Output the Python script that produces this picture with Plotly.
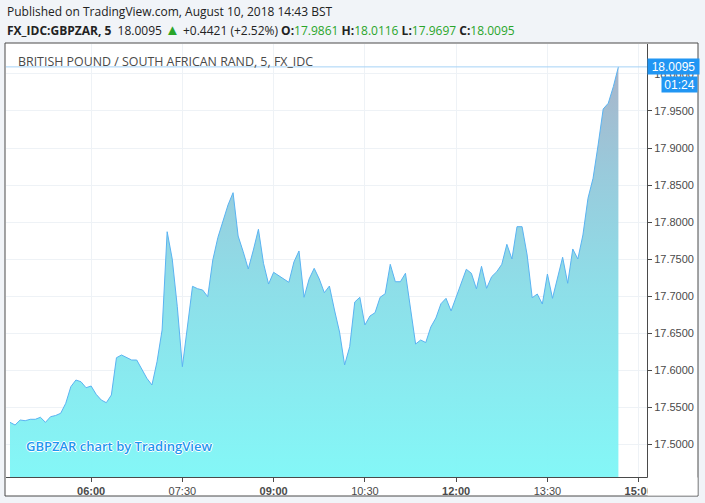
import plotly.graph_objects as go
import pandas as pd

# ---- data ----
times = pd.date_range("2018-08-10 04:40", periods=121, freq="5min")
prices = [
    17.5297, 17.5261, 17.5328, 17.5319, 17.5338, 17.5338, 17.5365, 17.5297, 17.5373, 17.5389,
    17.5419, 17.5554, 17.5778, 17.5868, 17.5845, 17.5764, 17.5787, 17.5675, 17.5598, 17.5562,
    17.5666, 17.6169, 17.6206, 17.6175, 17.6138, 17.6138, 17.6023, 17.5891, 17.5801, 17.6115,
    17.6543, 17.7870, 17.7502, 17.6858, 17.6048, 17.6588, 17.7133, 17.7101, 17.7083, 17.6993,
    17.7488, 17.7792, 17.8028, 17.8231, 17.8397, 17.7812, 17.7600, 17.7367, 17.7623, 17.7903,
    17.7444, 17.7164, 17.7322, 17.7276, 17.7232, 17.7187, 17.7461, 17.7610, 17.6985, 17.7232,
    17.7376, 17.7232, 17.7047, 17.7137, 17.6813, 17.6516, 17.6071, 17.6318, 17.6921, 17.6985,
    17.6611, 17.6732, 17.6777, 17.6985, 17.7033, 17.7430, 17.7195, 17.7195, 17.7309, 17.6840,
    17.6354, 17.6408, 17.6374, 17.6584, 17.6705, 17.6898, 17.6971, 17.6800, 17.6993, 17.7174,
    17.7363, 17.7309, 17.7099, 17.7403, 17.7106, 17.7263, 17.7330, 17.7430, 17.7700, 17.7502,
    17.7938, 17.7938, 17.7556, 17.6979, 17.7029, 17.6894, 17.7299, 17.6971, 17.7249, 17.7525,
    17.7174, 17.7637, 17.7502, 17.7826, 17.8321, 17.8591, 17.9041, 17.9527, 17.9604, 17.9828,
    18.0095,
]
last_price = 18.0095
countdown = "01:24"
tick_times = ["2018-08-10 06:00", "2018-08-10 07:30", "2018-08-10 09:00", "2018-08-10 10:30",
              "2018-08-10 12:00", "2018-08-10 13:30", "2018-08-10 15:00"]
tick_labels = ["<b>06:00</b>", "07:30", "<b>09:00</b>", "10:30", "<b>12:00</b>", "13:30", "<b>15:00</b>"]
header1 = "Published on TradingView.com, August 10, 2018 14:43 BST"
symbol = "FX_IDC:GBPZAR, 5"
change = "+0.4421 (+2.52%)"
ohlc = [("O:", "17.9861"), ("H:", "18.0116"), ("L:", "17.9697"), ("C:", "18.0095")]
chart_title = "BRITISH POUND / SOUTH AFRICAN RAND, 5, FX_IDC"
watermark = "GBPZAR chart by TradingView"

# ---- layout geometry (pixels) ----
W, H = 705, 503
L, R, T, B = 6, 647, 44, 477


def px(x):
    return (x - L) / (R - L)


def py(y):
    return (B - y) / (B - T)


GREEN = "#2aa52a"
TXT = "#4a4a4a"

fig = go.Figure()
fig.add_trace(go.Scatter(
    x=times, y=prices, mode="lines",
    line=dict(color="#5ab3f2", width=1),
    fill="tozeroy",
    fillgradient=dict(type="vertical", start=17.455, stop=18.01,
                      colorscale=[[0, "rgba(128,247,247,0.97)"], [0.45, "rgba(138,222,232,0.97)"],
                                  [0.75, "rgba(150,200,218,0.97)"], [1, "rgba(166,178,200,0.97)"]]),
    hoverinfo="skip", showlegend=False,
))

header2 = (f"<b>{symbol}</b>  {last_price:.4f} <span style='color:{GREEN};font-size:15px'>▲</span> {change} "
           + " ".join(f"<b>{k}</b><span style='color:{GREEN}'>{v}</span>" for k, v in ohlc))

annotations = [
    dict(text=header1, x=px(5), y=py(12), xref="paper", yref="paper", xanchor="left", yanchor="middle",
         showarrow=False, font=dict(family="Open Sans", size=12, color="#222222")),
    dict(text=header2, x=px(5), y=py(29), xref="paper", yref="paper", xanchor="left", yanchor="middle",
         showarrow=False, font=dict(family="Open Sans", size=12, color="#222222")),
    dict(text=chart_title, x=px(16), y=py(61), xref="paper", yref="paper", xanchor="left", yanchor="middle",
         showarrow=False, font=dict(family="Open Sans", size=12.4, color="#4a4a4a")),
    dict(text=watermark, x=px(24), y=py(446), xref="paper", yref="paper", xanchor="left", yanchor="middle",
         showarrow=False,
         font=dict(family="Open Sans", size=13, color="#1f96ef", weight=600,
                   shadow="1px 0 0 #fff, -1px 0 0 #fff, 0 1px 0 #fff, 0 -1px 0 #fff")),
    dict(text=f"{last_price:.4f}", x=1.0, y=last_price, xref="paper", yref="y", xanchor="left", yanchor="middle",
         showarrow=False, bgcolor="#2196f3", borderpad=1, width=49, height=13, align="center",
         font=dict(family="Liberation Sans", size=12, color="white")),
    dict(text=countdown, x=px(698), y=py(84.5), xref="paper", yref="paper", xanchor="right", yanchor="middle",
         showarrow=False, bgcolor="#2196f3", borderpad=1, width=33, height=13, align="center",
         font=dict(family="Liberation Sans", size=12, color="white")),
]

shapes = [
    # outer chart frame (white panel)
    dict(type="rect", xref="paper", yref="paper", x0=px(5), x1=px(698), y0=py(496), y1=py(43),
         line=dict(color="#4a4a4a", width=1), fillcolor="white", layer="below"),
    # last price line
    dict(type="line", xref="paper", yref="y", x0=0, x1=1, y0=last_price, y1=last_price,
         line=dict(color="#a6d3f6", width=1)),
    # cover the part of the last time label that runs under the price scale
    dict(type="rect", xref="paper", yref="paper", x0=px(647.5), x1=px(697.5), y0=py(495.5), y1=py(477.5),
         line=dict(width=0), fillcolor="white", layer="above"),
]

fig.update_layout(
    width=W, height=H,
    margin=dict(l=L, r=W - R, t=T, b=H - B, pad=0),
    paper_bgcolor="#f1f4f8", plot_bgcolor="white",
    showlegend=False,
    annotations=annotations, shapes=shapes,
    xaxis=dict(
        type="date",
        range=["2018-08-10 04:36:04", "2018-08-10 15:08:12"],
        tickvals=tick_times, ticktext=tick_labels,
        showgrid=True, gridcolor="#eef2f6", gridwidth=1,
        showline=True, linecolor="#4a4a4a", linewidth=1,
        ticks="outside", ticklen=4, tickcolor="#4a4a4a",
        tickfont=dict(family="Liberation Sans", size=11, color=TXT),
        zeroline=False, fixedrange=True,
    ),
    yaxis=dict(
        side="right",
        range=[17.4559, 18.0404],
        tick0=17.5, dtick=0.05, tickformat=".4f",
        showgrid=True, gridcolor="#eef2f6", gridwidth=1,
        showline=True, linecolor="#4a4a4a", linewidth=1,
        ticks="outside", ticklen=4, tickcolor="#4a4a4a",
        tickfont=dict(family="Liberation Sans", size=11, color=TXT),
        zeroline=False, fixedrange=True,
    ),
)

fig.write_html("out.html", config={"displayModeBar": False},
               post_script="document.body.style.margin='0px';document.body.style.padding='0px';")
